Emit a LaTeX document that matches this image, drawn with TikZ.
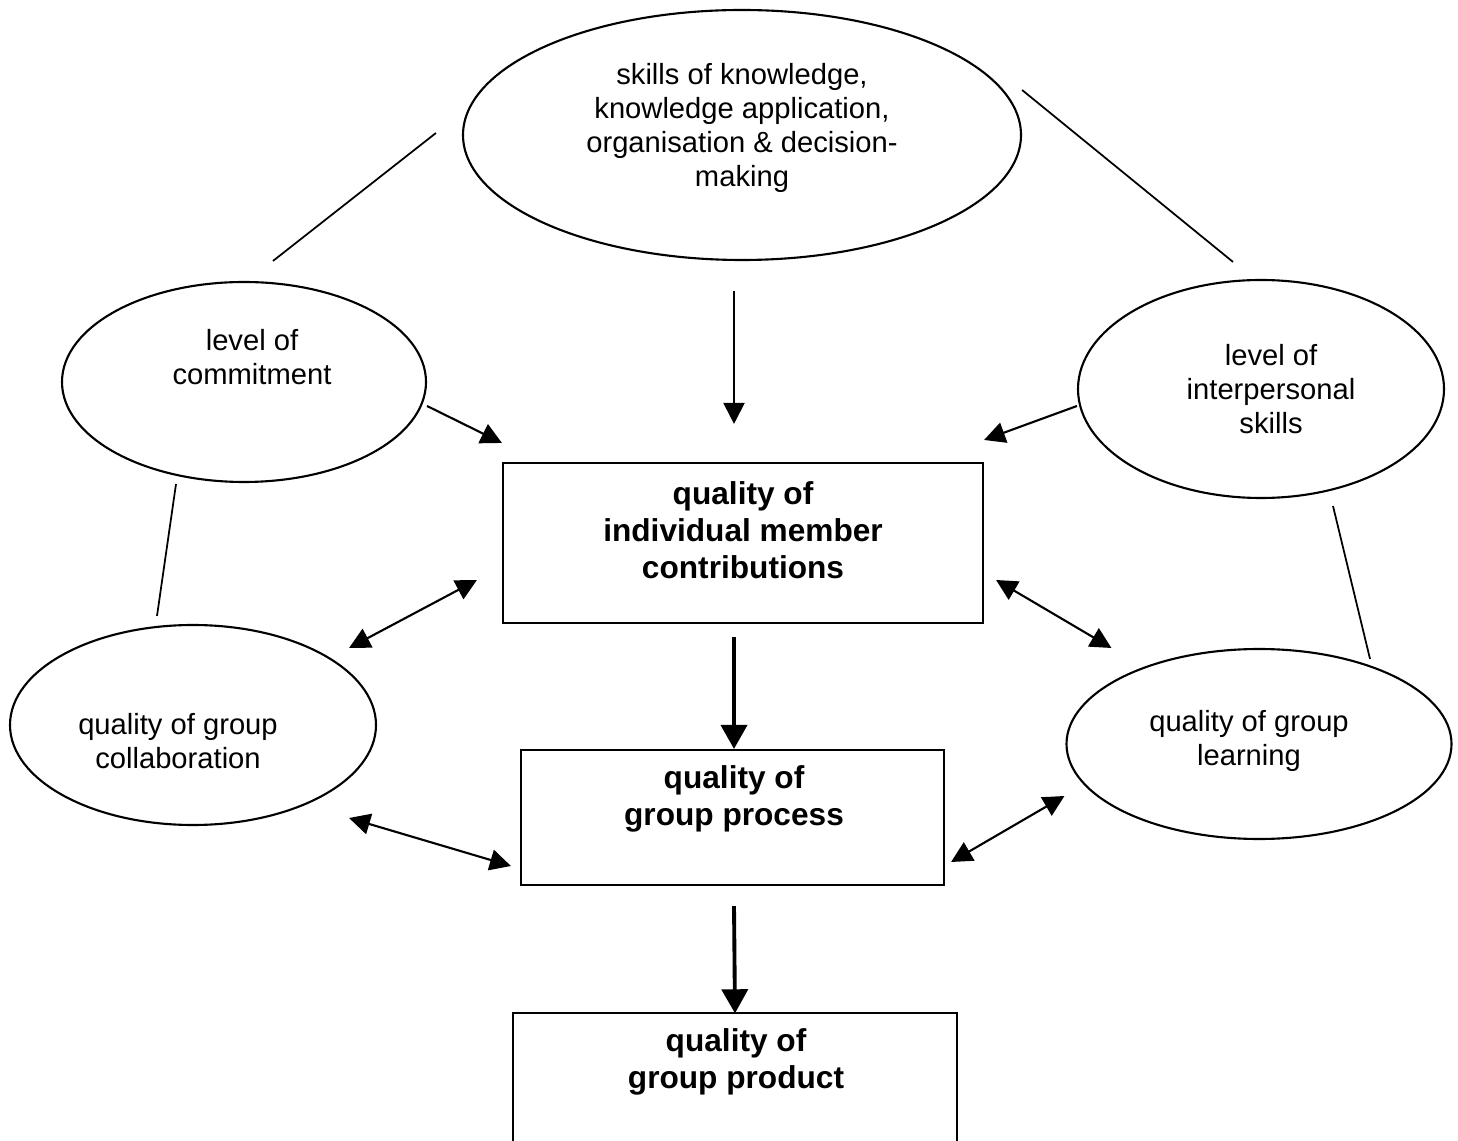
\documentclass[tikz,border=0pt]{standalone}
\usepackage{fontspec}
\setmainfont{Liberation Sans}
\usetikzlibrary{shapes.geometric,arrows.meta}

\begin{document}
\begin{tikzpicture}[
    bubble/.style={draw, ellipse, line width=0.6pt, inner sep=0pt},
    box/.style={draw, rectangle, line width=0.6pt, inner sep=0pt},
    txt/.style={align=center, font=\fontsize{8.3}{9.7}\selectfont},
    bold/.style={align=center, font=\fontsize{9}{10.6}\selectfont\bfseries},
    link/.style={line width=0.5pt},
    arr/.style={line width=0.6pt, -{Triangle[length=0.21cm,width=0.21cm]}},
    darr/.style={line width=0.6pt, {Triangle[length=0.21cm,width=0.21cm]}-{Triangle[length=0.21cm,width=0.21cm]}},
    bigarr/.style={line width=1.1pt, -{Triangle[length=0.24cm,width=0.26cm]}}
  ]
  \useasboundingbox (0,0) rectangle (14.58,-11.41);

  % ellipses
  \node (skills) at (7.42,-1.35) [bubble, minimum width=5.58cm, minimum height=2.5cm] {};
  \node (commit) at (2.44,-3.82) [bubble, minimum width=3.64cm, minimum height=2cm] {};
  \node (inter) at (12.61,-3.89) [bubble, minimum width=3.66cm, minimum height=2.18cm] {};
  \node (collab) at (1.93,-7.25) [bubble, minimum width=3.66cm, minimum height=2cm] {};
  \node (learn) at (12.59,-7.44) [bubble, minimum width=3.85cm, minimum height=1.9cm] {};

  \node (skillsT) at (7.42,-1.28) [txt] {skills of knowledge,\\knowledge application,\\organisation \& decision-\\making};
  \node (commitT) at (2.52,-3.57) [txt] {level of\\commitment};
  \node (interT) at (12.71,-3.89) [txt] {level of\\interpersonal\\skills};
  \node (collabT) at (1.78,-7.41) [txt] {quality of group\\collaboration};
  \node (learnT) at (12.49,-7.41) [txt] {quality of group\\learning};

  % boxes
  \node (indiv) at (7.43,-5.43) [box, minimum width=4.8cm, minimum height=1.6cm] {};
  \node (process) at (7.325,-8.175) [box, minimum width=4.23cm, minimum height=1.35cm] {};
  \node (product) at (7.35,-10.775) [minimum width=4.42cm, minimum height=1.27cm, inner sep=0pt] {};
  \draw[line width=0.6pt] (product.south west) |- (product.north) -| (product.south east);

  \node (indivT) at (7.43,-5.30) [bold] {quality of\\individual member\\contributions};
  \node (processT) at (7.34,-7.99) [bold] {quality of\\group process};
  \node (productT) at (7.36,-10.62) [bold] {quality of\\group product};

  % plain links
  \draw[link] ([shift={(0.29,0.20)}]commit.north) -- ([shift={(-0.26,0.02)}]skills.west);
  \draw[link] ([yshift=0.45cm]skills.east) -- ([shift={(-0.28,0.17)}]inter.north);
  \draw[link] ([shift={(-0.68,-0.01)}]commit.south) -- ([shift={(-0.36,0.08)}]collab.north);
  \draw[link] ([shift={(0.72,-0.07)}]inter.south) -- ([shift={(1.11,-0.11)}]learn.north);

  % arrows
  \draw[arr] ([shift={(-0.08,-0.30)}]skills.south) -- ([shift={(-0.09,0.38)}]indiv.north);
  \draw[arr] ([yshift=-0.24cm]commit.east) -- ([yshift=0.19cm]indiv.north west);
  \draw[arr] ([yshift=-0.17cm]inter.west) -- ([yshift=0.22cm]indiv.north east);
  \draw[darr] ([shift={(-0.28,0.77)}]collab.east) -- ([shift={(-0.25,-0.37)}]indiv.west);
  \draw[darr] ([shift={(0.12,-0.37)}]indiv.east) -- ([shift={(0.46,0.96)}]learn.west);
  \draw[darr] ([shift={(-0.28,-0.93)}]collab.east) -- ([shift={(-0.09,-0.485)}]process.west);
  \draw[darr] ([shift={(0.06,-0.445)}]process.east) -- ([shift={(-0.01,-0.52)}]learn.west);
  \draw[bigarr] ([shift={(-0.09,-0.13)}]indiv.south) -- ([xshift=0.015cm]process.north);
  \draw[bigarr] ([shift={(0.015,-0.20)}]process.south) -- (product.north);
\end{tikzpicture}
\end{document}
